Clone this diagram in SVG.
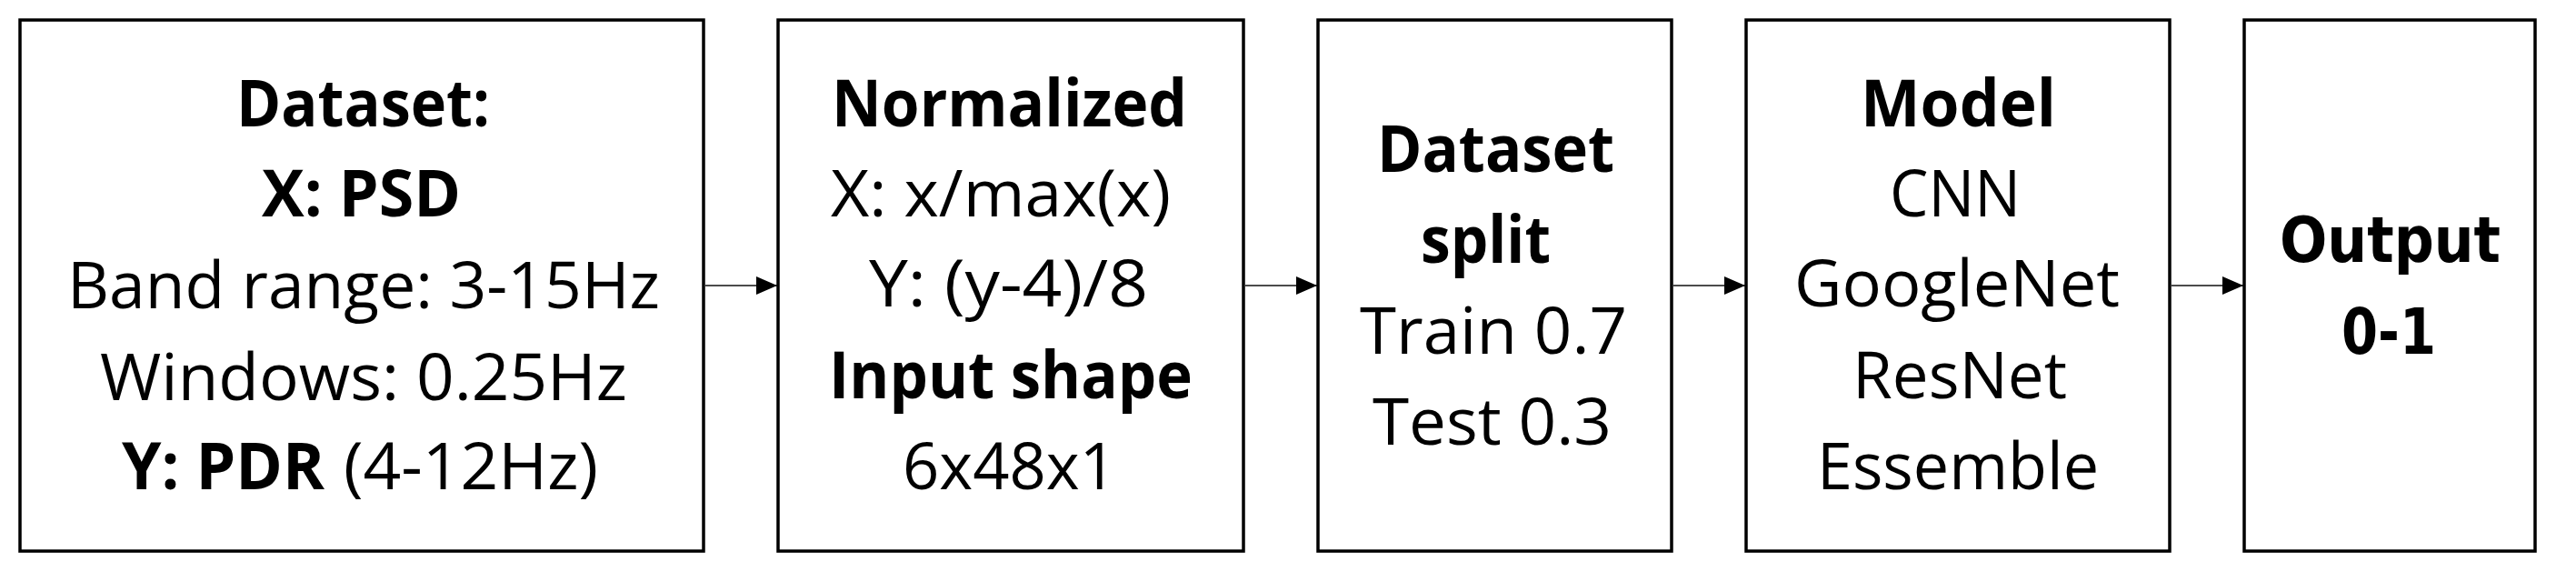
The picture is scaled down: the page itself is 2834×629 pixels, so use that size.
<svg xmlns="http://www.w3.org/2000/svg" width="2834" height="629" viewBox="0 0 2834 629">
<style>
.box{fill:#fff;stroke:#000;stroke-width:3.5}
.t{font-family:"Open Sans","Noto Sans","Liberation Sans",sans-serif;font-size:72px;fill:#000}
.b{font-weight:bold}
.o{font-family:"DejaVu Sans","Liberation Sans",sans-serif;font-weight:bold;font-size:70px;fill:#000}
.c{stroke:#111;stroke-width:1.5;fill:none}
</style>
<defs>
<marker id="ah" markerUnits="userSpaceOnUse" markerWidth="24" markerHeight="22" refX="23" refY="10" orient="auto">
<path d="M0,0 L23,10 L0,20 z" fill="#000"/>
</marker>
</defs>
<rect width="2834" height="629" fill="#fff"/>
<g id="connectors">
<line class="c" x1="776" y1="314" x2="855" y2="314" marker-end="url(#ah)"/>
<line class="c" x1="1370" y1="314" x2="1449" y2="314" marker-end="url(#ah)"/>
<line class="c" x1="1841" y1="314" x2="1920" y2="314" marker-end="url(#ah)"/>
<line class="c" x1="2389" y1="314" x2="2468" y2="314" marker-end="url(#ah)"/>
</g>
<g id="dataset">
<rect class="box" x="22" y="22" width="752" height="584"/>
<text class="t b" x="260" y="139" textLength="279" lengthAdjust="spacingAndGlyphs">Dataset:</text>
<text class="t b" x="288" y="238" textLength="219" lengthAdjust="spacingAndGlyphs">X: PSD</text>
<text class="t" x="74" y="339" textLength="652" lengthAdjust="spacingAndGlyphs">Band range: 3-15Hz</text>
<text class="t" x="110" y="440" textLength="580" lengthAdjust="spacingAndGlyphs">Windows: 0.25Hz</text>
<text class="t b" x="134" y="538" textLength="223" lengthAdjust="spacingAndGlyphs">Y: PDR</text>
<text class="t" x="378" y="538" textLength="280" lengthAdjust="spacingAndGlyphs">(4-12Hz)</text>
</g>
<g id="normalized">
<rect class="box" x="856" y="22" width="512" height="584"/>
<text class="t b" x="915" y="139" textLength="391" lengthAdjust="spacingAndGlyphs">Normalized</text>
<text class="t" x="914" y="238" textLength="374" lengthAdjust="spacingAndGlyphs">X: x/max(x)</text>
<text class="t" x="956" y="337" textLength="307" lengthAdjust="spacingAndGlyphs">Y: (y-4)/8</text>
<text class="t b" x="912" y="438" textLength="400" lengthAdjust="spacingAndGlyphs">Input shape</text>
<text class="t" x="993" y="538" textLength="235" lengthAdjust="spacingAndGlyphs">6x48x1</text>
</g>
<g id="split">
<rect class="box" x="1450" y="22" width="389" height="584"/>
<text class="t b" x="1515" y="189" textLength="261" lengthAdjust="spacingAndGlyphs">Dataset</text>
<text class="t b" x="1563" y="289" textLength="143" lengthAdjust="spacingAndGlyphs">split</text>
<text class="t" x="1496" y="389" textLength="294" lengthAdjust="spacingAndGlyphs">Train 0.7</text>
<text class="t" x="1510" y="489" textLength="263" lengthAdjust="spacingAndGlyphs">Test 0.3</text>
</g>
<g id="model">
<rect class="box" x="1921" y="22" width="466" height="584"/>
<text class="t b" x="2047" y="139" textLength="215" lengthAdjust="spacingAndGlyphs">Model</text>
<text class="t" x="2079" y="238" textLength="144" lengthAdjust="spacingAndGlyphs">CNN</text>
<text class="t" x="1974" y="337" textLength="358" lengthAdjust="spacingAndGlyphs">GoogleNet</text>
<text class="t" x="2038" y="438" textLength="236" lengthAdjust="spacingAndGlyphs">ResNet</text>
<text class="t" x="1999" y="538" textLength="310" lengthAdjust="spacingAndGlyphs">Essemble</text>
</g>
<g id="output">
<rect class="box" x="2469" y="22" width="320" height="584"/>
<text class="o" x="2508" y="288" textLength="243" lengthAdjust="spacingAndGlyphs">Output</text>
<text class="o" x="2576" y="389" textLength="104" lengthAdjust="spacingAndGlyphs">0-1</text>
</g>
</svg>
